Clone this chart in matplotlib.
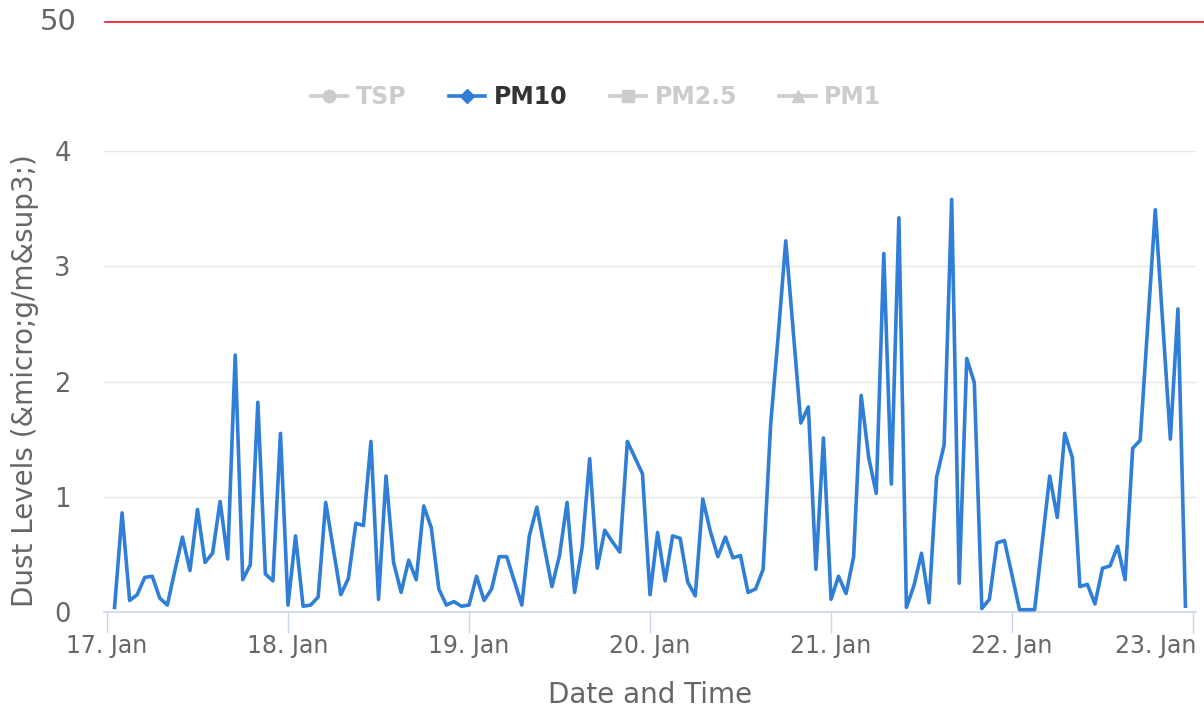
import numpy as np
import matplotlib.pyplot as plt
import matplotlib.dates as mdates
import matplotlib.transforms as mtrans
from matplotlib.lines import Line2D
plt.switch_backend('agg')

# hourly PM10 readings, 17 Jan 01:00 .. 22 Jan 23:00
start = np.datetime64('2020-01-17T01:00')
pm10 = [
    0.04, 0.86, 0.10, 0.15, 0.30, 0.31, 0.12, 0.06, 0.36, 0.65, 0.36, 0.89,
    0.43, 0.51, 0.96, 0.46, 2.23, 0.28, 0.41, 1.82, 0.33, 0.27, 1.55, 0.06,
    0.66, 0.05, 0.06, 0.13, 0.95, 0.55, 0.15, 0.29, 0.77, 0.75, 1.48, 0.11,
    1.18, 0.43, 0.17, 0.45, 0.28, 0.92, 0.73, 0.20, 0.06, 0.09, 0.05, 0.06,
    0.31, 0.10, 0.20, 0.48, 0.48, 0.27, 0.06, 0.66, 0.91, 0.56, 0.22, 0.49,
    0.95, 0.17, 0.56, 1.33, 0.38, 0.71, 0.61, 0.52, 1.48, 1.34, 1.20, 0.15,
    0.69, 0.27, 0.66, 0.64, 0.26, 0.14, 0.98, 0.70, 0.48, 0.65, 0.47, 0.49,
    0.17, 0.20, 0.37, 1.63, 2.40, 3.22, 2.43, 1.64, 1.78, 0.37, 1.51, 0.11,
    0.31, 0.16, 0.48, 1.88, 1.34, 1.03, 3.11, 1.11, 3.42, 0.04, 0.23, 0.51,
    0.08, 1.17, 1.45, 3.58, 0.25, 2.20, 1.99, 0.03, 0.11, 0.60, 0.62, 0.32,
    0.02, 0.02, 0.02, 0.60, 1.18, 0.82, 1.55, 1.34, 0.22, 0.24, 0.07, 0.38,
    0.40, 0.57, 0.28, 1.42, 1.49, 2.49, 3.49, 2.50, 1.50, 2.63, 0.05,
]
times = start + np.arange(len(pm10)) * np.timedelta64(1, 'h')

series_names = ['TSP', 'PM10', 'PM2.5', 'PM1']
series_markers = ['o', 'D', 's', '^']
series_visible = [False, True, False, False]
y_ticks = [0, 1, 2, 3, 4]
x_ticks = [np.datetime64('2020-01-%02dT00:00' % d) for d in range(17, 24)]
x_ticklabels = ['%d. Jan' % d for d in range(17, 24)]

blue = '#2f7ed8'
grey_txt = '#666666'
hidden = '#cccccc'

fig = plt.figure(figsize=(12.04, 7.13), dpi=100)
ax = fig.add_axes([104 / 1204, 101 / 713, (1196 - 104) / 1204, (612 - 151) / 713])

ax.plot(times.astype('datetime64[s]').astype(object), pm10, color=blue, lw=2.6,
        solid_joinstyle='round', zorder=3, clip_on=False)

ax.set_ylim(0, 4)
x0 = mdates.date2num(np.datetime64('2020-01-17T00:00').astype(object))
ax.set_xlim(x0 - 3 / 181, x0 + (1196 - 107) / 181)
ax.set_yticks(y_ticks)
ax.set_xticks([mdates.date2num(t.astype(object)) for t in x_ticks])
ax.set_xticklabels(x_ticklabels)

ax.tick_params(axis='y', length=0, labelsize=18.5, labelcolor=grey_txt, pad=24)
ax.tick_params(axis='x', length=15, width=1, color='#ccd6eb', labelsize=17,
               labelcolor=grey_txt, pad=1)
# last date label is pushed left so it stays inside the figure
last = ax.get_xticklabels()[-1]
last.set_horizontalalignment('right')
last.set_transform(last.get_transform() + mtrans.ScaledTranslation(3 / 100, 0, fig.dpi_scale_trans))

ax.grid(axis='y', color='#e6e6e6', lw=1)
ax.set_axisbelow(True)
for s in ['top', 'right', 'left']:
    ax.spines[s].set_visible(False)
ax.spines['bottom'].set_color('#ccd6eb')
ax.spines['bottom'].set_linewidth(1.2)

fig.text(25 / 1204, 1 - 381 / 713, 'Dust Levels (&micro;g/m&sup3;)', rotation=90,
         fontsize=20, color=grey_txt, ha='center', va='center')
fig.text(650 / 1204, 1 - 695 / 713, 'Date and Time', fontsize=20, color=grey_txt,
         ha='center', va='center')

# legend: only PM10 shown, others greyed out
handles = []
for name, mk, vis in zip(series_names, series_markers, series_visible):
    c = blue if vis else hidden
    handles.append(Line2D([], [], color=c, lw=2.6, marker=mk,
                          markersize=9 if mk != 'D' else 7, markeredgecolor=c))
leg = fig.legend(handles, series_names, loc='center', bbox_to_anchor=(596 / 1204, 1 - 97 / 713),
                 ncol=4, frameon=False, fontsize=17, handlelength=1.55,
                 columnspacing=1.8, handletextpad=0.35)
for t, vis in zip(leg.get_texts(), series_visible):
    t.set_color('#333333' if vis else hidden)
    t.set_fontweight('bold')

# leftover threshold line from the top of the page
fig.text(40 / 1204, 1 - 22 / 713, '50', fontsize=21, color=grey_txt, va='center', ha='left')
fig.add_artist(Line2D([105 / 1204, 1.0], [1 - 22 / 713, 1 - 22 / 713], color='#e8000b', lw=1.1))

fig.savefig('out.png', dpi=100)
plt.close('all')
